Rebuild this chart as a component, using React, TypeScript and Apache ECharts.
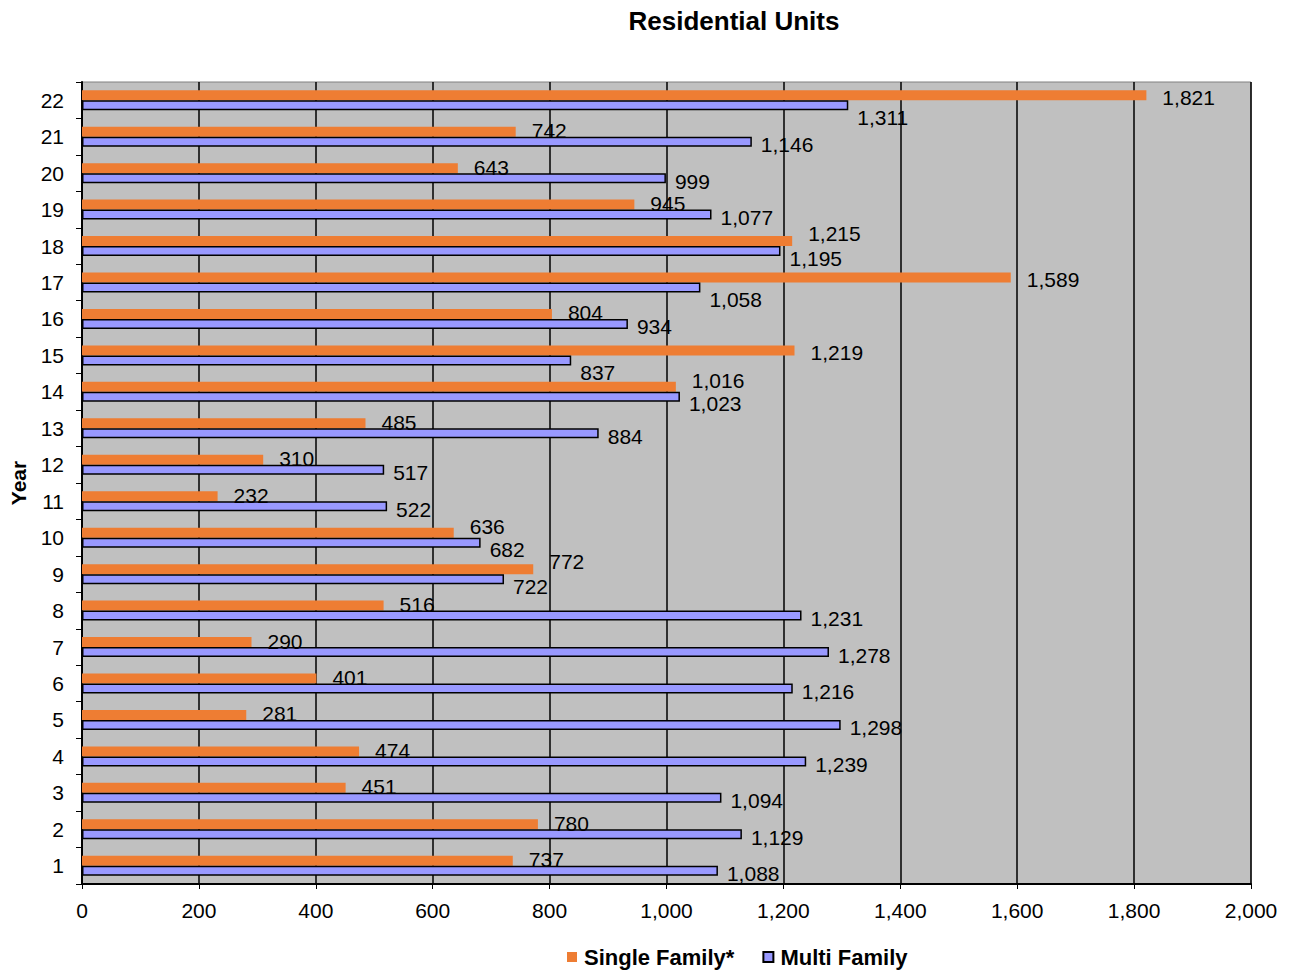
import React, { useEffect, useRef } from "react";
import * as echarts from "echarts";

const years = ["1","2","3","4","5","6","7","8","9","10","11","12","13","14","15","16","17","18","19","20","21","22"];
const singleFamily = [737,780,451,474,281,401,290,516,772,636,232,310,485,1016,1219,804,1589,1215,945,643,742,1821];
const multiFamily = [1088,1129,1094,1239,1298,1216,1278,1231,722,682,522,517,884,1023,837,934,1058,1195,1077,999,1146,1311];

const FONT = "Liberation Sans, Arial, sans-serif";
const fmt = (v: number) => v.toLocaleString("en-US");

// Excel-like label collision avoidance: vertical offsets derived from the values
function labelOffsets(o: number, b: number): [number, number] {
  if (o > b) {
    if (o - b < 100) return [-8, 7];
    return [2, 12];
  }
  if (b - o < 100) return [-6, 7];
  return [-1, 3];
}

export default function App() {
  const ref = useRef<HTMLDivElement>(null);
  useEffect(() => {
    const chart = echarts.init(ref.current!, null, { renderer: "svg" });
    const sfData = singleFamily.map((v, i) => ({
      value: v,
      label: { offset: [0, labelOffsets(v, multiFamily[i])[0]] },
    }));
    const mfData = multiFamily.map((v, i) => ({
      value: v,
      label: { offset: [0, labelOffsets(singleFamily[i], v)[1]] },
    }));
    chart.setOption({
      animation: false,
      title: {
        text: "Residential Units",
        left: 729,
        top: 3,
        textAlign: "center",
        textStyle: { fontFamily: FONT, fontSize: 26, fontWeight: "bold", color: "#000" },
      },
      legend: {
        bottom: 0,
        left: 562,
        itemWidth: 10,
        itemHeight: 10,
        itemGap: 28,
        textStyle: { fontFamily: FONT, fontSize: 22, fontWeight: "bold", color: "#000", padding: [0, 0, 0, 2] },
        data: [
          { name: "Single Family*", icon: "rect" },
          { name: "Multi Family", icon: "rect" },
        ],
      },
      grid: {
        left: 82, right: 46, top: 82, bottom: 89,
        outerBoundsMode: "none",
        containLabel: false,
        show: true, backgroundColor: "#c0c0c0", borderColor: "#808080", borderWidth: 1,
      },
      xAxis: {
        type: "value",
        min: 0, max: 2000, interval: 200,
        axisLine: { show: true, lineStyle: { color: "#000", width: 2 } },
        axisTick: { show: true, length: 5, lineStyle: { color: "#000" } },
        splitLine: { show: true, lineStyle: { color: "#000", width: 1.5 } },
        axisLabel: { fontFamily: FONT, fontSize: 21, color: "#000", margin: 16, formatter: (v: number) => fmt(v) },
      },
      yAxis: {
        type: "category",
        data: years,
        name: "Year",
        nameLocation: "middle",
        nameGap: 53,
        nameTextStyle: { fontFamily: FONT, fontSize: 21, fontWeight: "bold", color: "#000" },
        axisLine: { show: true, lineStyle: { color: "#000", width: 2 } },
        axisTick: { show: true, length: 6, lineStyle: { color: "#000" } },
        axisLabel: { fontFamily: FONT, fontSize: 21, color: "#000", margin: 18 },
      },
      series: [
        {
          name: "Single Family*",
          type: "bar",
          data: sfData,
          barWidth: 10,
          barGap: "0%",
          itemStyle: { color: "#ee7d33" },
          label: {
            show: true, position: "right", distance: 16,
            fontFamily: FONT, fontSize: 21, color: "#000",
            formatter: (p: any) => fmt(p.value),
          },
        },
        {
          name: "Multi Family",
          type: "bar",
          data: mfData,
          barWidth: 10,
          barGap: "0%",
          itemStyle: { color: "#9999ff", borderColor: "#000", borderWidth: 1.5 },
          label: {
            show: true, position: "right", distance: 9,
            fontFamily: FONT, fontSize: 21, color: "#000",
            formatter: (p: any) => fmt(p.value),
          },
        },
      ],
    });
    return () => chart.dispose();
  }, []);
  return <div ref={ref} style={{ width: 1297, height: 973, position: "absolute", left: 0, top: 0 }} />;
}
